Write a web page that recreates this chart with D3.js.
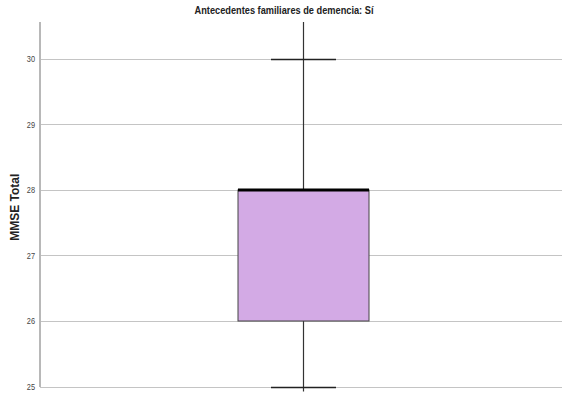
<!DOCTYPE html>
<html>
<head>
<meta charset="utf-8">
<script src="https://cdn.jsdelivr.net/npm/d3@7"></script>
<style>
  html, body { margin: 0; padding: 0; background: #fff; }
  svg { display: block; }
</style>
</head>
<body>
<svg id="chart" width="562" height="394"></svg>
<script>
// Box plot summary for MMSE Total, family history of dementia: "Sí"
const categories = ["Sí"];
const minValues = [25];
const q1Values = [26];
const medianValues = [28];
const q3Values = [28];
const maxValues = [30];
const yTicks = [25, 26, 27, 28, 29, 30];

const W = 562, H = 394;
const plot = { left: 40, right: 562, top: 22, bottom: 386.5 };

const svg = d3.select("#chart");

const y = d3.scaleLinear().domain([25, 30]).range([plot.bottom, 59]);
const x = d3.scaleBand().domain(categories).range([plot.left + 7, plot.right - 3]).paddingInner(0).paddingOuter(0);

// Gridlines
svg.append("g")
  .selectAll("line")
  .data(yTicks)
  .join("line")
  .attr("x1", plot.left)
  .attr("x2", plot.right)
  .attr("y1", d => Math.round(y(d)) + 0.5)
  .attr("y2", d => Math.round(y(d)) + 0.5)
  .attr("stroke", "#c4c4c4")
  .attr("stroke-width", 1.2);

// Y axis line
svg.append("line")
  .attr("x1", plot.left).attr("x2", plot.left)
  .attr("y1", plot.top).attr("y2", plot.bottom + 0.5)
  .attr("stroke", "#b8b8b8")
  .attr("stroke-width", 2);

// Y tick labels (condensed)
svg.append("g")
  .selectAll("text")
  .data(yTicks)
  .join("text")
  .attr("transform", d => `translate(${plot.left - 5},${y(d) + 3}) scale(0.82,1)`)
  .attr("text-anchor", "end")
  .attr("font-family", "'Liberation Sans', Arial, sans-serif")
  .attr("font-size", 9)
  .attr("fill", "#444")
  .text(d => d);

// Y axis title
svg.append("text")
  .attr("transform", `translate(19,${(plot.top + plot.bottom) / 2 + 3}) rotate(-90)`)
  .attr("text-anchor", "middle")
  .attr("font-family", "'Liberation Sans', Arial, sans-serif")
  .attr("font-weight", "bold")
  .attr("font-size", 12)
  .attr("fill", "#222")
  .text("MMSE Total");

// Chart title (condensed bold)
svg.append("text")
  .attr("transform", "translate(284,14) scale(0.84,1)")
  .attr("text-anchor", "middle")
  .attr("font-family", "'Liberation Sans', Arial, sans-serif")
  .attr("font-weight", "bold")
  .attr("font-size", 11)
  .attr("fill", "#222")
  .text("Antecedentes familiares de demencia: Sí");

const boxW = 131, capW = 65;
const g = svg.append("g");

categories.forEach((c, i) => {
  const cx = Math.round(x(c) + x.bandwidth() / 2) + 0.5;

  // Category line through the plot with a tick below the baseline
  g.append("line")
    .attr("x1", cx).attr("x2", cx)
    .attr("y1", plot.top).attr("y2", plot.bottom + 5)
    .attr("stroke", "#333").attr("stroke-width", 1.2);

  // Whisker caps
  [minValues[i], maxValues[i]].forEach(v => {
    g.append("line")
      .attr("x1", cx - capW / 2).attr("x2", cx + capW / 2)
      .attr("y1", Math.round(y(v)) + 0.5).attr("y2", Math.round(y(v)) + 0.5)
      .attr("stroke", "#222").attr("stroke-width", 1.4);
  });

  // Box
  g.append("rect")
    .attr("x", cx - boxW / 2)
    .attr("y", y(q3Values[i]))
    .attr("width", boxW)
    .attr("height", y(q1Values[i]) - y(q3Values[i]))
    .attr("fill", "#d3aae5")
    .attr("stroke", "#444")
    .attr("stroke-width", 1);

  // Median
  g.append("line")
    .attr("x1", cx - boxW / 2).attr("x2", cx + boxW / 2)
    .attr("y1", y(medianValues[i])).attr("y2", y(medianValues[i]))
    .attr("stroke", "#000").attr("stroke-width", 3);
});
</script>
</body>
</html>
